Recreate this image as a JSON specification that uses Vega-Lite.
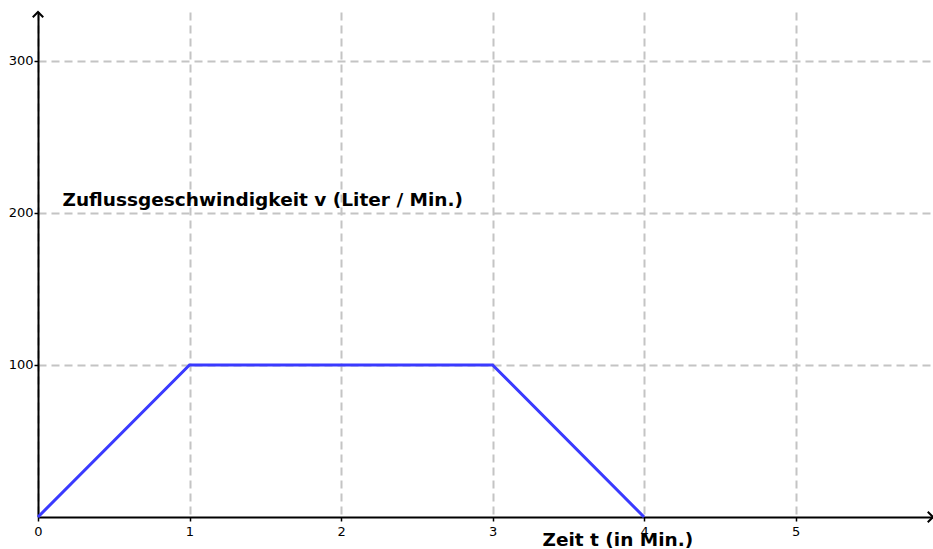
{
  "$schema": "https://vega.github.io/schema/vega-lite/v6.json",
  "width": 895,
  "height": 505,
  "autosize": {"type": "none"},
  "padding": {"left": 38, "top": 12, "right": 0, "bottom": 32},
  "background": "white",
  "config": {
    "view": {"stroke": null},
    "axis": {
      "labelFont": "DejaVu Sans",
      "labelFontSize": 13,
      "labelColor": "black",
      "titleFont": "DejaVu Sans",
      "titleFontWeight": "bold",
      "titleFontSize": 18.5,
      "titleColor": "black",
      "domainColor": "black",
      "domainWidth": 2,
      "tickColor": "black",
      "tickWidth": 1.5,
      "tickSize": 4,
      "gridColor": "#c4c4c4",
      "gridWidth": 2,
      "gridDash": [8, 5]
    }
  },
  "layer": [
    {
      "data": {"values": [
        {"t": 0, "v": 0},
        {"t": 1, "v": 100},
        {"t": 3, "v": 100},
        {"t": 4, "v": 0}
      ]},
      "mark": {"type": "line", "color": "#3a3aff", "strokeWidth": 3, "clip": false},
      "encoding": {
        "x": {
          "field": "t", "type": "quantitative",
          "scale": {"domain": [0, 5.907], "nice": false, "zero": false},
          "axis": {
            "values": [0, 1, 2, 3, 4, 5],
            "gridValues": [1, 2, 3, 4, 5],
            "format": "d",
            "labelPadding": 4,
            "labelFlush": false,
            "title": "Zeit t (in Min.)",
            "titleX": 504,
            "titleY": 28,
            "titleAlign": "left",
            "titleBaseline": "alphabetic",
            "titleAnchor": null
          }
        },
        "y": {
          "field": "v", "type": "quantitative",
          "scale": {"domain": [0, 332.2], "nice": false},
          "axis": {
            "values": [100, 200, 300],
            "format": "d",
            "labelPadding": 1,
            "labelFlush": false,
            "title": "Zuflussgeschwindigkeit v (Liter / Min.)",
            "titleAngle": 0,
            "titleX": 24,
            "titleY": 193,
            "titleAlign": "left",
            "titleBaseline": "alphabetic",
            "titleAnchor": null
          }
        }
      }
    },
    {
      "data": {"values": [
        {"t": 0, "v": 332.2, "dir": "up"},
        {"t": 5.907, "v": 0, "dir": "right"}
      ]},
      "mark": {"type": "point", "filled": false, "stroke": "black", "strokeWidth": 2, "clip": false, "opacity": 1},
      "encoding": {
        "x": {"field": "t", "type": "quantitative"},
        "y": {"field": "v", "type": "quantitative"},
        "shape": {
          "field": "dir", "type": "nominal", "legend": null,
          "scale": {"domain": ["up", "right"], "range": ["M-1,1L0,0L1,1", "M-1,-1L0,0L-1,1"]}
        },
        "size": {"value": 110}
      }
    }
  ]
}
